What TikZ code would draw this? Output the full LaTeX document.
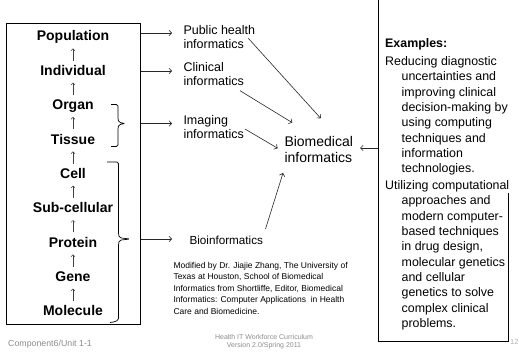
\documentclass[tikz,border=0pt]{standalone}
\usepackage{fontspec}
\setmainfont{Liberation Sans}
\usetikzlibrary{arrows.meta}
\tikzset{
  lvl/.style={font=\fontsize{14}{16}\selectfont\bfseries, inner sep=0pt, anchor=base},
  lab/.style={font=\fontsize{12.5}{14.2}\selectfont, inner sep=0pt, anchor=base west},
  exa/.style={font=\fontsize{12.4}{15.35}\selectfont, inner sep=0pt, anchor=base west},
  cite/.style={font=\fontsize{8.5}{11.5}\selectfont, inner sep=0pt, anchor=base west},
  foot/.style={font=\fontsize{7}{8.2}\selectfont, text=black!45, inner sep=0pt},
  arr/.style={draw=black!85, line width=0.6pt, -{Straight Barb[length=2.6pt,width=5.5pt]}},
  uparr/.style={draw=black!75, line width=0.5pt, -{Straight Barb[length=2pt,width=4pt]}},
  brc/.style={draw=black, line width=0.7pt, rounded corners=1.6pt},
  boxline/.style={draw=black, line width=0.8pt}
}
\begin{document}
\begin{tikzpicture}[x=1pt,y=-1pt]
\useasboundingbox (0,0) rectangle (519,353);

% left box with levels
\node[boxline, minimum width=134pt, minimum height=301pt, anchor=north west, inner sep=0pt] (lbox) at (6,23) {};
\foreach \w [count=\i from 0] in {Population,Individual,Organ,Tissue,Cell,Sub-cellular,Protein,Gene,Molecule}
  \node[lvl] (lv\i) at (73,{41+34.34*\i}) {\w};
\foreach \i in {0,...,7}
  \draw[uparr] ([yshift=-19.7pt]lv\i.base) -- ([yshift=-7.3pt]lv\i.base);

% braces
\draw[brc] (111,104.5) -- (118,104.5) -- (118,119.5) -- (119,122.5) -- (125.5,123.5) -- (119,124.5) -- (118,127.5) -- (118,146.5) -- (111,146.5);
\draw[brc] (107,162) -- (118.5,162) -- (118.5,234.5) -- (119.5,237.8) -- (130,239) -- (119.5,240.2) -- (118.5,243.5) -- (118.5,320) -- (114,322) -- (110,322.5);

% labels
\node[lab] (ph) at (183.3,34.3) {\vtop{\hbox{Public health}\hbox{informatics}}};
\node[lab] (cl) at (183.3,71.7) {\vtop{\hbox{Clinical}\hbox{informatics}}};
\node[lab] (im) at (183.3,124) {\vtop{\hbox{Imaging}\hbox{informatics}}};
\node[lab, font=\fontsize{11.7}{14}\selectfont] (bi) at (189.3,244) {Bioinformatics};
\node[lab, font=\fontsize{14}{15.6}\selectfont] (bm) at (284.3,146.7) {\vtop{\hbox{Biomedical}\hbox{informatics}}};

% arrows from the box
\coordinate (t1) at (172,33);
\coordinate (t2) at (172,71);
\coordinate (t3) at (172,123.5);
\coordinate (t4) at (172,239);
\draw[arr] (lbox.east |- t1) -- (t1);
\draw[arr] (lbox.east |- t2) -- (t2);
\draw[arr] (lbox.east |- t3) -- (t3);
\draw[arr] (lbox.east |- t4) -- (t4);

% arrows into biomedical informatics
\coordinate (s1) at (248.3,38.3);  \coordinate (e1) at (320.7,118.3);
\coordinate (s2) at (240,90.7);    \coordinate (e2) at (292.3,122.7);
\coordinate (s3) at (245,129);     \coordinate (e3) at (277.7,148.3);
\coordinate (s4) at (265.5,229);   \coordinate (e4) at (283,173);
\draw[arr] (s1) -- (e1);
\draw[arr] (s2) -- (e2);
\draw[arr] (s3) -- (e3);
\draw[arr] (s4) -- (e4);

% examples box
\draw[boxline] (378,-2) -- (378,341) -- (508,341) -- (508,193);
\coordinate (rb) at (378,148);
\draw[arr] (rb) -- ([xshift=7pt]bm.east |- rb);

\node[exa, font=\fontsize{12.4}{15.35}\selectfont\bfseries] (exh) at (385,47.5) {Examples:};
\node[exa] (ex1) at (385,65.5) {\vtop{\hbox{Reducing diagnostic}
  \hbox{\kern16.5pt uncertainties and}
  \hbox{\kern16.5pt improving clinical}
  \hbox{\kern16.5pt decision-making by}
  \hbox{\kern16.5pt using computing}
  \hbox{\kern16.5pt techniques and}
  \hbox{\kern16.5pt information}
  \hbox{\kern16.5pt technologies.}}};
\node[exa] (ex2) at (385,189.5) {\vtop{\hbox{Utilizing computational}
  \hbox{\kern16.5pt approaches and}
  \hbox{\kern16.5pt modern computer-}
  \hbox{\kern16.5pt based techniques}
  \hbox{\kern16.5pt in drug design,}
  \hbox{\kern16.5pt molecular genetics}
  \hbox{\kern16.5pt and cellular}
  \hbox{\kern16.5pt genetics to solve}
  \hbox{\kern16.5pt complex clinical}
  \hbox{\kern16.5pt problems.}}};

% citation
\node[cite] (cit) at (173.3,268) {\vtop{\hbox{Modified by Dr. Jiajie Zhang, The University of}
  \hbox{Texas at Houston, School of Biomedical}
  \hbox{Informatics from Shortliffe, Editor, Biomedical}
  \hbox{Informatics: Computer Applications\ \ in Health}
  \hbox{Care and Biomedicine.}}};

% footer
\node[foot, anchor=base west, font=\fontsize{8.8}{9.5}\selectfont] (f1) at (8,346) {Component6/Unit 1-1};
\node[foot, anchor=base] (f2) at (264,339) {\vtop{\hbox to 0pt{\hss Health IT Workforce Curriculum\hss}\hbox to 0pt{\hss Version 2.0/Spring 2011\hss}}};
\node[foot, anchor=base west, font=\fontsize{7.5}{9}\selectfont, text=black!30] (pg) at (510,344) {12};
\end{tikzpicture}
\end{document}
